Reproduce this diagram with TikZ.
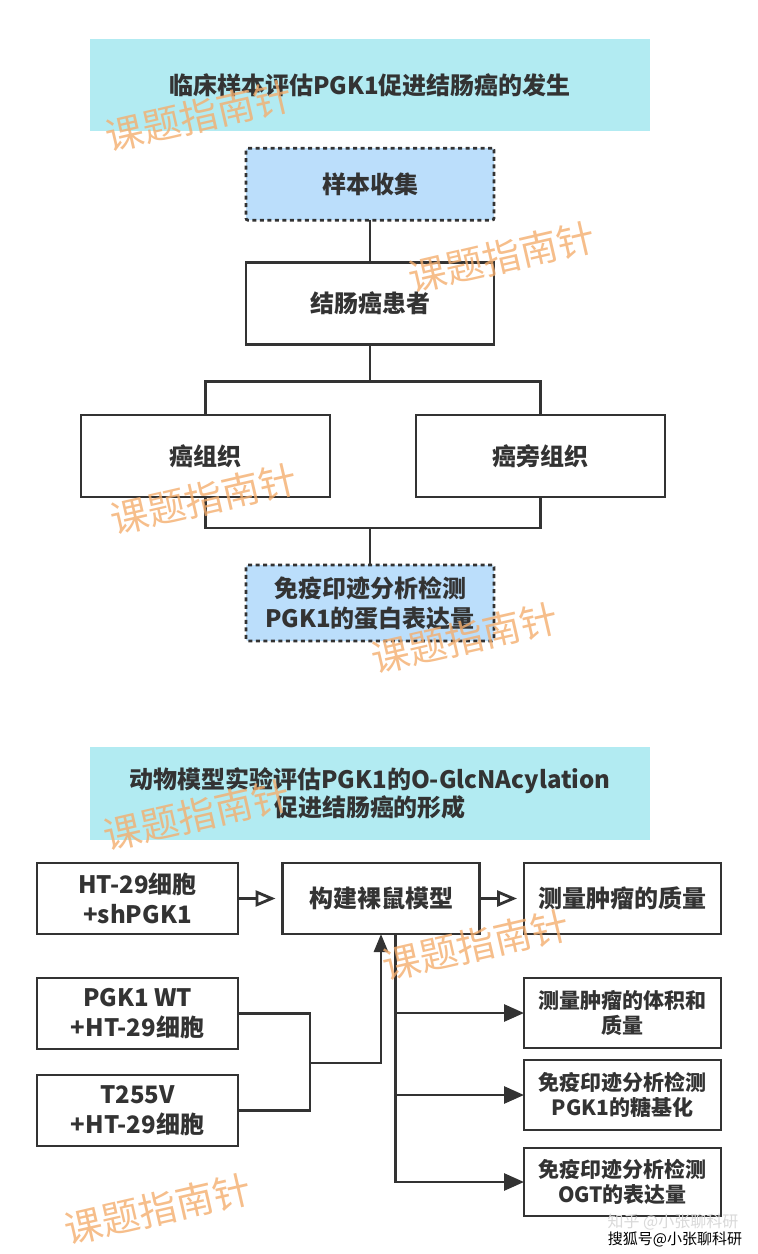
\documentclass[tikz,border=0pt]{standalone}
\usepackage{fontspec}
\setmainfont{Noto Sans CJK SC}
\usepackage{tikz}
\usetikzlibrary{arrows.meta,positioning}
\definecolor{HeadCyan}{HTML}{B2EBF2}
\definecolor{StepBlue}{HTML}{BBDEFB}
\definecolor{LineGray}{HTML}{333333}
\definecolor{MarkOrange}{HTML}{F4AE6E}

\begin{document}
\begin{tikzpicture}[x=1pt,y=-1pt,
    every node/.style={font=\bfseries\fontsize{24}{30}\selectfont,
                       text=LineGray,align=center},
    headbox/.style={rectangle,fill=HeadCyan,minimum width=560pt,
                    minimum height=92pt,inner sep=0pt},
    plainbox/.style={rectangle,draw=LineGray,line width=2.8pt,fill=white,
                     inner sep=0pt,outer sep=0pt},
    dotbox/.style={plainbox,fill=StepBlue,rounded corners=2pt,
                   dash pattern=on 4pt off 3.5pt},
    smalltext/.style={font=\bfseries\fontsize{21}{25}\selectfont},
    link/.style={draw=LineGray,line width=2.8pt},
    openarr/.style={link,-{Triangle[open,length=20pt,width=16pt,line width=2.8pt]},
                    shorten >=7pt},
    fillarr/.style={link,-{Triangle[length=20pt,width=17pt]}},
    uparr/.style={link,-{Triangle[length=18pt,width=14pt]}},
    wmark/.style={font=\fontsize{38}{38}\selectfont,text=MarkOrange,
                  text opacity=0.8,rotate=13,inner sep=0pt}]
  \fill[white] (0,0) rectangle (758,1254);
  \useasboundingbox (0,0) rectangle (758,1254);

  % clinical samples
  \node[headbox] (head1) at (370,85)
    {临床样本评估PGK1促进结肠癌的发生};
  \node[dotbox,minimum width=248pt,minimum height=72pt,
        below=17pt of head1] (collect) {样本收集};
  \node[plainbox,minimum width=248pt,minimum height=82pt,
        below=42pt of collect] (patient) {结肠癌患者};
  \node[plainbox,minimum width=249pt,minimum height=82pt] (tumor) at (205.5,456)
    {癌组织};
  \node[plainbox,minimum width=249pt,minimum height=82pt] (normal) at (540.5,456)
    {癌旁组织};
  \node[dotbox,minimum width=248pt,minimum height=76pt] (blot) at (370,603)
    {免疫印迹分析检测\\PGK1的蛋白表达量};
  \coordinate (merge) at (370,528);

  \draw[link] (collect) -- (patient);
  \draw[link] (patient.south) -- ++(0,37) -| (tumor.north);
  \draw[link] (patient.south) ++(0,37) -| (normal.north);
  \draw[link] (tumor.south) |- (merge) -| (normal.south);
  \draw[link] (merge) -- (blot.north);

  % animal model
  \node[headbox,minimum height=93pt,font=\bfseries\fontsize{24}{28}\selectfont]
    (head2) at (370,793.5)
    {动物模型实验评估PGK1的O-GlcNAcylation\\促进结肠癌的形成};
  \node[plainbox,minimum width=201pt,minimum height=71pt] (shcell) at (137.5,898.5)
    {HT-29细胞\\+shPGK1};
  \node[plainbox,minimum width=197pt,minimum height=71pt] (mouse) at (381,898.5)
    {构建裸鼠模型};
  \node[plainbox,minimum width=197pt,minimum height=71pt] (weigh) at (622.5,898.5)
    {测量肿瘤的质量};
  \node[plainbox,minimum width=201pt,minimum height=71pt] (wtcell) at (137.5,1013.5)
    {PGK1 WT\\+HT-29细胞};
  \node[plainbox,minimum width=201pt,minimum height=71pt,
        below=26pt of wtcell] (mutcell) {T255V\\+HT-29细胞};
  \node[plainbox,smalltext,minimum width=197pt,minimum height=70pt] (volume)
    at (622.5,1013) {测量肿瘤的体积和\\质量};
  \node[plainbox,smalltext,minimum width=197pt,minimum height=70pt] (glyco)
    at (622.5,1095) {免疫印迹分析检测\\PGK1的糖基化};
  \node[plainbox,smalltext,minimum width=197pt,minimum height=68pt] (ogt)
    at (622.5,1182) {免疫印迹分析检测\\OGT的表达量};
  \coordinate (fork) at (310,1063);
  \coordinate (trunk) at ([xshift=14.5pt]mouse.south);

  \draw[openarr] (shcell) -- (mouse);
  \draw[openarr] (mouse) -- (weigh);
  \draw[link] (wtcell.east) -| (fork) |- (mutcell.east);
  \draw[uparr] (fork) -| (mouse.south);
  \draw[fillarr] (trunk) |- (volume.west);
  \draw[fillarr] (trunk) |- (glyco.west);
  \draw[fillarr] (trunk) |- (ogt.west);

  % watermarks
  \node[wmark] (wm1) at (199,116) {课题指南针};
  \node[wmark] (wm2) at (502,257) {课题指南针};
  \node[wmark] (wm3) at (204,499) {课题指南针};
  \node[wmark] (wm4) at (465,638) {课题指南针};
  \node[wmark] (wm5) at (197,815) {课题指南针};
  \node[wmark] (wm6) at (476,945) {课题指南针};
  \node[wmark] (wm7) at (158,1209) {课题指南针};
  \node[font=\fontsize{16}{16}\selectfont,text=black!15,inner sep=0pt]
    (zhihu) at (673,1222) {知乎 @小张聊科研};
  \node[font=\fontsize{15}{15}\selectfont,text=black,inner sep=0pt]
    (sohu) at (675,1239) {搜狐号@小张聊科研};
\end{tikzpicture}
\end{document}
